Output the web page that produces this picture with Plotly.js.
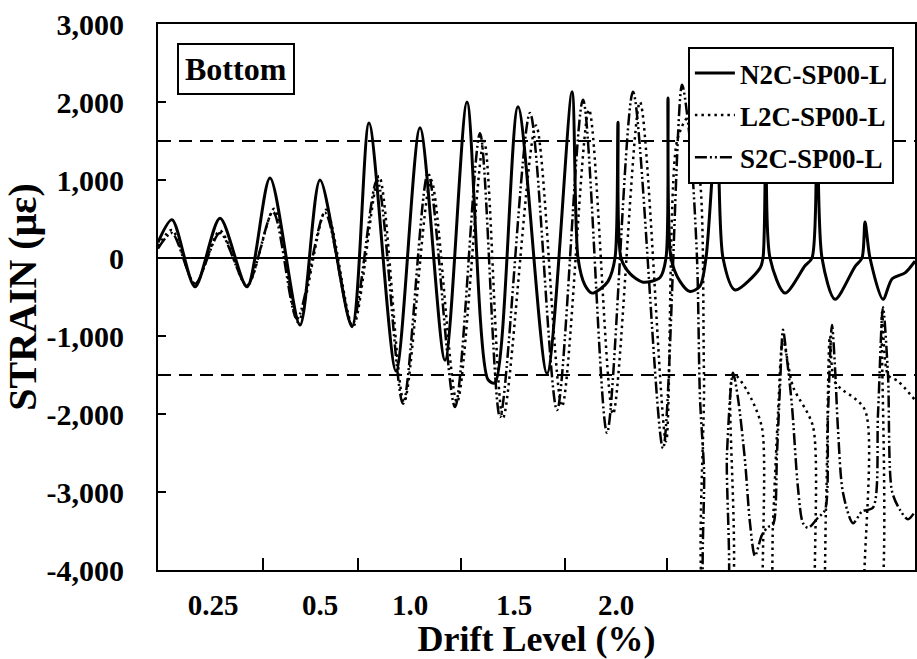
<!DOCTYPE html>
<html>
<head>
<meta charset="utf-8">
<script src="https://cdn.plot.ly/plotly-3.0.1.min.js"></script>
<style>html,body{margin:0;padding:0;background:#fff;}#chart{width:917px;height:659px;}</style>
</head>
<body>
<div id="chart"></div>
<script>
// x = loading step (sample index along the test history)
const n2cStep = [0,14,37,62,89,112,142,162,194,211,238,262,287,309,330,337,360,389,414,420,427,434,442,450,457,460,463,472,485,502,508,510,513,522,532,542,548,559,565,577,602,605,608,612,627,647,654,659,664,677,697,704,707,712,725,734,747,757];
const n2cStrain = [200,490,-370,510,-370,1025,-860,1000,-880,1730,-1450,1670,-1310,2000,-1560,-1600,1940,-1480,2130,0,-350,-450,-400,-300,0,1740,0,-200,-310,-250,0,2050,0,-300,-430,-360,0,1800,0,-410,-130,0,1800,0,-450,-100,0,1800,0,-530,-110,0,460,0,-530,-270,-190,-40];

const l2cStep = [0,14,37,62,89,116,140,168,195,221,246,273,299,326,345,378,404,431,455,482,508,519,530,542,546,550,570,573,577,589,604,607,611,615,620,625,635,655,659,663,668,672,677,707,709,720,724,730,740,757];
const l2cStrain = [150,360,-340,350,-360,630,-820,620,-880,1050,-1850,1000,-1850,1500,-2050,1700,-1900,1900,-2000,2000,-2350,1500,1800,1000,-1500,-4600,-4600,-1600,-1500,-1700,-2180,-4600,-4600,-3400,-2000,-1050,-1650,-2160,-4600,-4600,-3200,-1000,-1590,-1950,-4600,-4600,-700,-1500,-1580,-1820];

const s2cStep = [0,14,37,62,89,115,139,167,194,219,245,270,297,322,342,372,399,425,449,475,505,524,532,539,542,546,550,566,569,575,580,587,592,597,604,610,615,619,622,625,629,634,640,645,650,660,667,670,674,677,680,685,695,704,715,720,725,730,734,742,750,757];
const s2cStrain = [120,320,-330,320,-350,590,-780,580,-860,1000,-1870,1090,-1910,1600,-2040,1860,-1950,2030,-2240,2130,-2440,2220,1500,0,-1800,-2700,-4600,-4600,-2500,-1470,-1800,-2600,-3400,-3820,-3550,-3450,-3420,-2500,-1650,-920,-1300,-1900,-2950,-3400,-3460,-3330,-3230,-2000,-860,-1400,-2200,-3010,-3400,-3250,-3200,-2000,-630,-1500,-2990,-3230,-3350,-3250];

const driftLabels = ['0.25','0.5','1.0','1.5','2.0'];
const driftLabelStep = [55,162,252,356,458];
const driftBoundaryStep = [105,200,303,407,509];
const yTickVals = [-4000,-3000,-2000,-1000,0,1000,2000,3000];
const yTickText = ['-4,000','-3,000','-2,000','-1,000','0','1,000','2,000','3,000'];
const yieldStrain = [1500,-1500];

const serif = 'Liberation Serif, Times New Roman, serif';

const traces = [
  {x:n2cStep, y:n2cStrain, name:'N2C-SP00-L', mode:'lines', legendgroup:'a',
   line:{color:'#000', width:3, shape:'spline', smoothing:0.8}},
  {x:l2cStep, y:l2cStrain, name:'L2C-SP00-L', mode:'lines', legendgroup:'b',
   line:{color:'#000', width:2.5, dash:'2.5px,4px', shape:'spline', smoothing:0.8}},
  {x:s2cStep, y:s2cStrain, name:'S2C-SP00-L', mode:'lines', legendgroup:'c',
   line:{color:'#000', width:2.5, dash:'12px,3px,2px,3px,2px,3px', shape:'spline', smoothing:0.8}}
];

const layout = {
  width:917, height:659,
  margin:{l:158, r:2, t:24, b:89},
  paper_bgcolor:'#fff', plot_bgcolor:'#fff',
  showlegend:true,
  font:{family:serif, color:'#000'},
  xaxis:{
    range:[0,757], showgrid:false, zeroline:false,
    showline:true, mirror:true, linecolor:'#000', linewidth:2,
    tickmode:'array', tickvals:driftLabelStep, ticktext:driftLabels, ticks:'',
    ticklabelstandoff:8,
    tickfont:{family:serif, size:29, weight:'bold', color:'#000'},
    minor:{tickmode:'array', tickvals:driftBoundaryStep, ticks:'inside', ticklen:12, tickwidth:2, tickcolor:'#000'},
    title:{text:'Drift Level (%)', standoff:4, font:{family:serif, size:36, weight:'bold', color:'#000'}}
  },
  yaxis:{
    range:[-4000,3000], showgrid:false,
    zeroline:true, zerolinecolor:'#000', zerolinewidth:1.5,
    showline:true, mirror:true, linecolor:'#000', linewidth:2,
    tickmode:'array', tickvals:yTickVals, ticktext:yTickText,
    ticks:'inside', ticklen:8, tickwidth:2, tickcolor:'#000',
    ticklabelstandoff:26,
    tickfont:{family:serif, size:30, weight:'bold', color:'#000'},
    title:{text:'STRAIN (με)', standoff:6, font:{family:serif, size:40, weight:'bold', color:'#000'}}
  },
  legend:{
    x:0.700, y:0.958, xanchor:'left', yanchor:'top',
    bgcolor:'#fff', bordercolor:'#000', borderwidth:2,
    font:{family:serif, size:27, weight:'bold', color:'#000'},
    traceorder:'grouped', tracegroupgap:4, itemwidth:40
  },
  shapes: yieldStrain.map(v => ({
    type:'line', xref:'paper', x0:0, x1:1, yref:'y', y0:v, y1:v,
    line:{color:'#000', width:2, dash:'13px,8px'}
  })),
  annotations:[{
    text:'Bottom', xref:'paper', yref:'paper', x:0.025, y:0.965,
    xanchor:'left', yanchor:'top', showarrow:false,
    bgcolor:'#fff', bordercolor:'#000', borderwidth:2, borderpad:6,
    font:{family:serif, size:32, weight:'bold', color:'#000'}
  }]
};

Plotly.newPlot('chart', traces, layout, {displayModeBar:false, staticPlot:true});
</script>
</body>
</html>
